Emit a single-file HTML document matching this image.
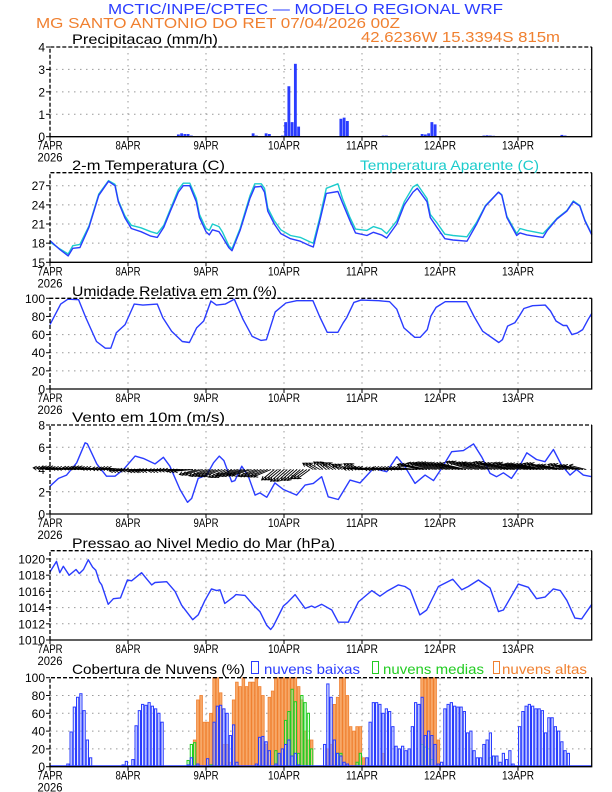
<!DOCTYPE html>
<html><head><meta charset="utf-8">
<style>
html,body{margin:0;padding:0;background:#fff;}
svg{display:block;font-family:"Liberation Sans",sans-serif;}
</style></head>
<body>
<svg id="chart" width="612" height="792" viewBox="0 0 612 792" xmlns="http://www.w3.org/2000/svg">
<text x="108" y="14" fill="#2a3cff" font-size="15" textLength="395" lengthAdjust="spacingAndGlyphs">MCTIC/INPE/CPTEC — MODELO REGIONAL WRF</text>
<text x="36" y="28" fill="#f08030" font-size="15" textLength="364" lengthAdjust="spacingAndGlyphs">MG SANTO ANTONIO DO RET   07/04/2026 00Z</text>
<text x="361" y="42" fill="#f08030" font-size="15" textLength="199" lengthAdjust="spacingAndGlyphs">42.6236W 15.3394S 815m</text>
<text x="72" y="44" font-size="14" textLength="146" lengthAdjust="spacingAndGlyphs">Precipitacao (mm/h)</text>
<text x="72" y="170" font-size="14" textLength="153" lengthAdjust="spacingAndGlyphs">2-m Temperatura (C)</text>
<text x="360" y="170" font-size="14" fill="#1ccccc" textLength="179" lengthAdjust="spacingAndGlyphs">Temperatura Aparente (C)</text>
<text x="72" y="296" font-size="14" textLength="205" lengthAdjust="spacingAndGlyphs">Umidade Relativa em 2m (%)</text>
<text x="72" y="422" font-size="14" textLength="153" lengthAdjust="spacingAndGlyphs">Vento em 10m (m/s)</text>
<text x="72" y="548" font-size="14" textLength="263" lengthAdjust="spacingAndGlyphs">Pressao ao Nivel Medio do Mar (hPa)</text>
<text x="72" y="674" font-size="14" textLength="173" lengthAdjust="spacingAndGlyphs">Cobertura de Nuvens (%)</text>
<rect x="251.5" y="661.5" width="7" height="12" fill="none" stroke="#2a3cff"/>
<text x="264" y="674" font-size="14" fill="#2a3cff" textLength="96" lengthAdjust="spacingAndGlyphs">nuvens baixas</text>
<rect x="372.5" y="661.5" width="6" height="12" fill="none" stroke="#22cc22"/>
<text x="383" y="674" font-size="14" fill="#22cc22" textLength="101" lengthAdjust="spacingAndGlyphs">nuvens medias</text>
<rect x="493.5" y="661.5" width="6" height="12" fill="none" stroke="#f08030"/>
<text x="502" y="674" font-size="14" fill="#f08030" textLength="85" lengthAdjust="spacingAndGlyphs">nuvens altas</text>
</svg>
<script>
const dayLabels = ["7APR","8APR","9APR","10APR","11APR","12APR","13APR"];
const precipHours = [8,9,10,39,40,41,42,43,62,63,66,67,71,72,73,74,75,76,89,90,91,102,103,114,115,116,117,118,133,134,135,136,157,158];
const precipValues = [0.02,0.02,0.02,0.1,0.15,0.12,0.12,0.05,0.15,0.05,0.15,0.12,0.05,0.65,2.25,0.65,3.25,0.45,0.8,0.85,0.7,0.05,0.05,0.12,0.1,0.15,0.65,0.55,0.05,0.06,0.05,0.04,0.08,0.05];
const tempHours = [0,3,5.6,7,9.2,12,15,18,20,21,23,25,28,31,33,35,37,39.5,41,43,45,46,48,49,50,52,53,55,56,58.5,61.5,63,65,66,67,69,71,74,77,80,81,83,85,88.6,90,92.3,94,97.5,99.5,102,103.6,106.7,109,111.7,113,116,117,119,121.5,124,128.3,131.3,134,138,139,140.6,143.6,144.6,146.7,151.7,153,156,159,161,163,164.6,166.7];
const tempValues = [18.4,17.0,16.0,17.2,17.3,20.5,25.5,27.7,27.0,24.5,22,20.3,19.8,19.1,18.9,20.5,23,26,27,27,24.5,22,19.8,19.3,20.1,19.8,19,17.3,16.8,20,25,26.8,26.9,26,23,21,19.5,18.7,18.3,17.6,17.4,21.5,25.8,26.1,24.3,21.5,19.6,19.2,19.7,19.3,18.8,21,24,26,26.6,24.5,22,20.5,18.7,18.5,18.3,21,23.8,26,25.5,22,19.2,19.6,19.3,18.9,20,21.8,23,24.5,23.8,21.5,19.3];
const apparentValues = [18.2,17.1,16.3,17.6,17.8,20.7,25.7,27.8,27.2,24.7,22.3,20.8,20.4,19.8,19.5,20.8,23.3,26.4,27.4,27.4,25,22.5,20.3,20.0,21.0,20.6,19.8,17.6,17.1,20.3,25.4,27.3,27.3,26.6,23.5,21.5,20.1,19.2,18.9,18.2,18.0,22,26.6,27.3,25,22,20.2,20.0,20.6,20.2,19.5,21.5,24.5,26.8,27.2,25,22.5,21.2,19.4,19.2,19.0,21.3,23.9,26,25.6,22.2,19.5,20.3,20.0,19.5,20.2,21.9,23.1,24.6,23.9,21.6,19.4];
const rhHours = [0,3.3,5.5,8.8,11,14.3,17,18.7,20.4,23.1,25.9,28.6,33,34.7,37.4,40.7,42.9,45.1,47.3,49.5,51.2,53.9,56.7,59.4,62.2,64.9,66.6,69.3,72.6,75.9,80.9,83.1,85.3,88.6,90.2,91.3,93.5,95.7,101.2,104.5,106.7,108.9,112.2,113.9,116.1,117.2,118.8,121.6,128.2,130.4,133.1,138.1,139.2,140.8,143,144.1,145.8,148.5,152.4,154,155.7,157.9,159,160.6,162.3,163.9,165.6,166.7];
const rhValues = [71,93.6,99,98.5,78.7,52.4,45,45,62,71,93.6,92.5,93.6,78.7,63.7,52.4,51.3,67.4,75,97,92.5,93.6,99,76.8,58,53.6,54.3,85,94.8,97.4,97.4,78.7,62.5,62.5,73,78.7,95.5,98,97.4,96.3,88,67.4,57,57,65.5,80.5,90,96.3,96.3,80.5,63.7,51.3,54.3,69.3,73,78.7,88.8,91.8,92.5,86,75,70,70,60,61.8,65.5,76.8,83.5];
const windHours = [0,2.6,5.1,8.2,10.8,11.5,14.4,17.4,20,22.6,26.2,28.7,32.3,34.9,36.9,40,42.3,43.6,45.6,48.2,50.3,52.1,53.5,55.9,56.9,59,61,63.1,64.6,66.7,69.2,71.8,75.9,78.5,81,83.6,85.6,88.7,92.3,95.4,99.5,103.6,106.7,109.2,112.3,115.4,118,120.5,123.6,127.2,130.3,132.8,135.4,137.4,139.5,142,144.1,146.7,149.7,152.3,154.9,157.4,160,162,164.1,166.7];
const windSpeed = [2.5,3.2,3.5,4.6,6.4,6.3,4.5,3.4,3.4,4.0,5.2,5.0,4.5,5.1,4.3,2.2,1.05,1.4,3.2,3.5,4.6,5.2,4.8,2.9,3.0,4.3,3.4,1.7,1.9,1.5,2.8,2.2,1.7,2.6,2.75,3.35,1.55,1.3,3.05,2.8,4.1,3.8,5.15,4.25,2.75,3.5,3.0,4.1,5.6,5.7,6.3,5.15,3.65,3.35,3.7,3.2,4.1,5.5,4.9,4.7,5.8,4.4,3.5,4.0,3.5,3.35];
const windU = [-4,-4,-4.2,-4,-4,-4.2,-4,-4,-4.5,-4.5,-4.5,-4.8,-4.5,-4.5,-4.5,-4,-4,-4.2,-4,-4.5,-4.5,-4,-4,-3,-3.2,-3,-3,-2.5,-2.2,-2.5,-2.5,-2,-4.5,-4.5,-4.2,-4.5,-4.5,-4.5,-5.5,-5.5,-5.8,-6,-6,-5.5,-5.5,-6,-6,-6.2,-6,-5.5,-5.5,-5.5,-5,-4.5,-4.5,-4];
const windV = [0.4,0.5,0.3,0.4,0.5,0.3,0.2,0.3,-0.3,-0.2,-0.4,-0.3,-0.3,-0.2,-0.4,-1.2,-1.5,-1.6,-1.8,-1.5,-1.4,-1.6,-1.7,-2.5,-2.8,-2.6,-2.2,1.5,1.8,1.6,1.2,1.4,0.3,0.4,0.2,0.3,0.3,0.4,1.2,1.5,1.6,1.5,1.4,1.8,1.6,1.5,1.7,1.4,1.5,1.3,1.2,1.4,1.0,1.2,0.9,1.0];
const presHours = [0,2,3,4.1,5.9,8,9,10.3,11.8,13.1,14.1,15.2,15.9,17.9,19.5,21.7,23.8,25.1,28.2,29.8,31.3,32.3,35.9,38.5,40.5,43.9,45.6,47.7,49.7,51.3,52.3,53.8,56.4,57.2,60,62.6,64.6,66.7,67.9,68.7,71.8,73,75.4,78.5,80.5,81.5,83.6,86.7,88.7,91.8,94.9,99,101.5,103.6,107.2,109.2,110.8,113.8,115.9,119.5,123.9,126.7,128.7,131.8,135.4,138,139.5,144.1,147.2,149.7,152.3,154.9,157,159,161.5,163.6,166.7];
const presValues = [1018.4,1019.7,1018.3,1019.1,1018,1018.7,1018.2,1018.7,1019.9,1019,1018.6,1017.2,1016.8,1014.4,1015.1,1015.2,1017.4,1017.3,1018.3,1017.5,1016.8,1017.1,1017.2,1016,1014.3,1012.5,1013.1,1014.9,1016.3,1016.1,1016.2,1014.5,1015.3,1015.6,1015.5,1014.3,1013.5,1011.8,1011.3,1011.7,1014.2,1014.6,1015.6,1013.9,1014.2,1014.0,1014.4,1013.7,1012.2,1012.2,1014.7,1016.1,1015.4,1016,1016.8,1016.6,1016.2,1013.1,1013.7,1016.6,1017.5,1016.2,1016.6,1017.4,1016.4,1013.5,1013.7,1016.9,1016.5,1015.1,1015.3,1016.3,1016.1,1014.9,1012.7,1012.6,1014.4];
const lowHours = [5,6,7,8,9,10,11,12,22,23,25,26,27,28,29,30,31,32,33,34,42,43,45,48,50,51,52,53,54,55,56,57,63,64,65,66,67,69,70,71,72,73,74,75,76,84,85,86,87,88,89,90,91,97,98,99,100,101,102,103,104,105,106,107,108,109,110,111,112,113,114,115,116,117,118,119,120,121,122,123,124,125,126,127,128,129,130,131,132,133,134,135,136,137,138,139,140,141,142,144,145,146,147,148,149,150,151,152,153,154,155,156,157,158,159,160];
const lowValues = [3,39,67,78,82,63,30,10,2,6,8,46,63,70,69,72,68,65,60,50,2,10,3,9,50,68,69,65,60,35,47,5,3,33,34,28,18,3,15,20,25,30,12,15,2,25,93,78,30,15,12,5,3,10,50,72,72,70,60,65,62,45,23,20,23,18,20,45,72,70,78,35,40,35,25,3,5,65,70,72,68,67,67,62,38,40,18,10,10,25,30,38,12,12,5,15,8,18,3,45,62,68,70,68,65,65,63,38,55,55,45,40,28,18,15];
const midHours = [42,43,44,49,69,72,73,74,75,76,77,78,79,80,88,89,94,95,114,115,116,117,135,136];
const midValues = [7,25,27,2,18,52,62,87,73,15,80,72,60,20,15,15,5,15,25,22,20,8,10,12];
const highHours = [44,45,46,47,48,49,50,51,52,53,54,55,56,57,58,59,60,61,62,63,64,65,66,67,68,69,70,71,72,73,74,75,76,77,78,79,80,85,86,87,88,89,90,91,92,93,94,95,96,102,114,115,116,117,118,119];
const highValues = [30,75,80,50,50,60,100,100,83,25,25,5,75,95,90,100,90,95,95,100,90,80,25,78,85,100,100,100,100,100,100,100,90,75,40,30,30,20,25,70,78,100,100,80,45,40,45,45,10,15,100,100,100,100,100,30];

const svg = document.getElementById('chart');
const NS = 'http://www.w3.org/2000/svg';
const X0 = 50, X1 = 591.7, HW = 3.25;
function xh(h){ return X0 + h*HW; }
function mk(tag, attrs){ const e = document.createElementNS(NS, tag); for (const k in attrs) e.setAttribute(k, attrs[k]); svg.appendChild(e); return e; }
function panel(name, top, bot, vmin, vmax, ticks){
  const ys = v => bot - (v - vmin)/(vmax - vmin)*(bot - top);
  ticks.forEach(t => {
    const yy = ys(t);
    if (t !== vmin && Math.abs(yy-top) > 1) {
      const g = mk('line', {x1:X0, x2:X1, y1:yy, y2:yy, stroke:'#999', 'stroke-width':1, 'stroke-dasharray':'1.5,4.5'});
      
      
    }
    const tk = mk('line', {x1:X0-4, x2:X0, y1:yy, y2:yy, stroke:'#000', 'stroke-width':1});
    
    
    const lb = mk('text', {x:45, y:yy+4.5, 'font-size':12, 'text-anchor':'end'});
    lb.textContent = String(t);
    
    
  });
  dayLabels.forEach((d, i) => {
    const xx = xh(i*24);
    if (i > 0) {
      const g = mk('line', {x1:xx, x2:xx, y1:top, y2:bot, stroke:'#999', 'stroke-width':1, 'stroke-dasharray':'1.5,4.5'});
      
      
    }
    const tk = mk('line', {x1:xx, x2:xx, y1:bot, y2:bot+4, stroke:'#000', 'stroke-width':1});
    
    
    const lb = mk('text', {x:xx, y:bot+13, 'font-size':11.5, 'text-anchor':'middle', textLength:(d.length>4?32:25), lengthAdjust:'spacingAndGlyphs'});
    lb.textContent = d;
    
    
  });
  const yr = mk('text', {x:X0, y:bot+25, 'font-size':11.5, 'text-anchor':'middle', textLength:25, lengthAdjust:'spacingAndGlyphs'});
  yr.textContent = '2026';
  
  
  return ys;
}
function frame(name, top, bot){
  const f1 = mk('path', {d:`M${X0},${bot} L${X0},${top} L${X1},${top}`, fill:'none', stroke:'#000', 'stroke-width':1.3, 'stroke-dasharray':'4,2'});
  
  
  const f2 = mk('path', {d:`M${X1},${top} L${X1},${bot} L${X0},${bot}`, fill:'none', stroke:'#000', 'stroke-width':1.3});
  
  
}
function line(name, hours, vals, ys, color){
  const d = hours.map((h,i) => (i?'L':'M') + xh(h).toFixed(1) + ',' + ys(vals[i]).toFixed(1)).join(' ');
  const p = mk('path', {d:d, fill:'none', stroke:color, 'stroke-width':1.4, 'stroke-linejoin':'round'});
  
  
}

// Panel 1 precipitation
const yP = panel('precip', 47, 136.7, 0, 4, [0,1,2,3,4]);
precipHours.forEach((h,i) => {
  const y = yP(precipValues[i]);
  const b = mk('rect', {x:xh(h)+0.2, y:y, width:HW-0.4, height:Math.max(0.8, 136.7-y), fill:'#2a3cff'});
  
  
});
frame('precip', 47, 136.7);

// Panel 2 temperature
const yT = panel('temp', 172.7, 262.3, 15, 29.04, [15,18,21,24,27]);
line('apparent-temp-line', tempHours, apparentValues, yT, '#1ccccc');
line('temp-line', tempHours, tempValues, yT, '#2a3cff');
frame('temp', 172.7, 262.3);

// Panel 3 RH
const yR = panel('rh', 298.3, 389, 0, 100, [0,20,40,60,80,100]);
line('rh-line', rhHours, rhValues, yR, '#2a3cff');
frame('rh', 298.3, 389);

// Panel 4 wind
const yW = panel('wind', 425, 514, 0, 8, [0,2,4,6,8]);
line('wind-speed-line', windHours, windSpeed, yW, '#2a3cff');
for (let h = 0; h < 166; h++) {
  const i = Math.floor(h/3);
  const x0 = xh(h), y0 = yW(4);
  const k = 4.2;
  const x1 = x0 + windU[i]*k, y1 = y0 - windV[i]*k;
  const ang = Math.atan2(y1-y0, x1-x0);
  const a1 = ang + 2.6, a2 = ang - 2.6;
  const d = `M${x0.toFixed(1)},${y0.toFixed(1)} L${x1.toFixed(1)},${y1.toFixed(1)} M${(x1+4*Math.cos(a1)).toFixed(1)},${(y1+4*Math.sin(a1)).toFixed(1)} L${x1.toFixed(1)},${y1.toFixed(1)} L${(x1+4*Math.cos(a2)).toFixed(1)},${(y1+4*Math.sin(a2)).toFixed(1)}`;
  const a = mk('path', {d:d, fill:'none', stroke:'#000', 'stroke-width':0.9});
  
  
}
frame('wind', 425, 514);

// Panel 5 pressure
const yS = panel('pressure', 550.7, 640, 1010, 1021.02, [1010,1012,1014,1016,1018,1020]);
line('pressure-line', presHours, presValues, yS, '#2a3cff');
frame('pressure', 550.7, 640);

// Panel 6 clouds
const yC = panel('cloud', 677.7, 766.7, 0, 100, [0,20,40,60,80,100]);
highHours.forEach((h,i) => {
  const y = yC(highValues[i]);
  const b = mk('rect', {x:xh(h)+0.3, y:y, width:HW-0.6, height:766.7-y, fill:'#f7a868', stroke:'#f08030', 'stroke-width':0.8});
  
  
});
midHours.forEach((h,i) => {
  const y = yC(midValues[i]);
  const b = mk('rect', {x:xh(h)+0.5, y:y, width:HW-1, height:766.7-y, fill:'rgba(200,255,200,0.4)', stroke:'#22cc22', 'stroke-width':1});
  
  
});
lowHours.forEach((h,i) => {
  const y = yC(lowValues[i]);
  const b = mk('rect', {x:xh(h)+0.5, y:y, width:HW-1, height:766.7-y, fill:'rgba(200,210,255,0.5)', stroke:'#2a3cff', 'stroke-width':1});
  
  
});
const base = mk('line', {x1:X0, x2:X1, y1:766, y2:766, stroke:'#2a3cff', 'stroke-width':1.5});


frame('cloud', 677.7, 766.7);
</script>
</body></html>
